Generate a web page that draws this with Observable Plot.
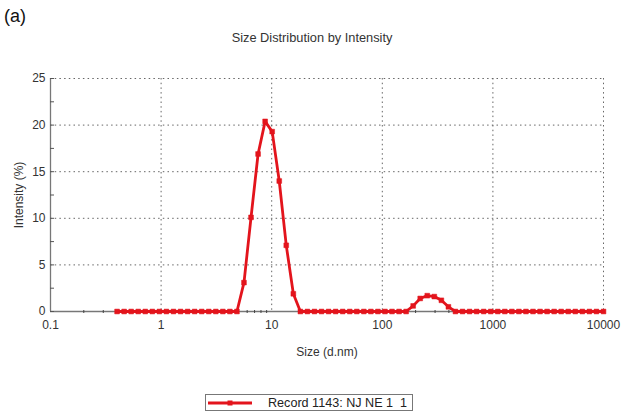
<!DOCTYPE html>
<html>
<head>
<meta charset="utf-8">
<script src="https://cdn.jsdelivr.net/npm/d3@7"></script>
<script src="https://cdn.jsdelivr.net/npm/@observablehq/plot@0.6"></script>
<style>
  body { margin: 0; background: #fff; }
  #wrap { position: relative; width: 622px; height: 414px; font-family: "Liberation Sans", Arial, sans-serif; color: #333; }
  #wrap svg.plot { position: absolute; left: 0; top: 0; }
  #tag { position: absolute; left: 4px; top: 6px; font-size: 18px; color: #111; }
  #title { position: absolute; left: 0; width: 624px; top: 30px; text-align: center; font-size: 12.8px; color: #333; }
  #legend { position: absolute; left: 205px; top: 394px; width: 206px; height: 15px; border: 1px solid #777; background: #fff;
            display: flex; align-items: center; font-size: 12.6px; color: #222; overflow: hidden; }
  #legend svg { margin-left: 1px; margin-right: 15px; }
</style>
</head>
<body>
<div id="wrap">
  <div id="tag">(a)</div>
  <div id="title">Size Distribution by Intensity</div>
  <div id="legend"></div>
</div>
<script>
// Size bins (d.nm), logarithmically spaced from 0.4 to 10000
const sizes = [
  0.4, 0.4632, 0.5365, 0.6213, 0.7195, 0.8332, 0.9649, 1.117, 1.294, 1.499,
  1.736, 2.01, 2.328, 2.696, 3.122, 3.615, 4.187, 4.849, 5.615, 6.503,
  7.531, 8.721, 10.1, 11.7, 13.54, 15.69, 18.17, 21.04, 24.36, 28.21,
  32.67, 37.84, 43.82, 50.75, 58.77, 68.06, 78.82, 91.28, 105.7, 122.4,
  141.8, 164.2, 190.1, 220.2, 255.0, 295.3, 342.0, 396.1, 458.7, 531.2,
  615.1, 712.4, 825.0, 955.4, 1106, 1281, 1484, 1718, 1990, 2305,
  2669, 3091, 3580, 4145, 4801, 5560, 6439, 7456, 8635, 10000
];

// Intensity (%) per bin
const intensity = [
  0, 0, 0, 0, 0, 0, 0, 0, 0, 0,
  0, 0, 0, 0, 0, 0, 0, 0, 3.1, 10.1,
  16.9, 20.4, 19.3, 14.0, 7.1, 1.9, 0, 0, 0, 0,
  0, 0, 0, 0, 0, 0, 0, 0, 0, 0,
  0, 0, 0.6, 1.4, 1.7, 1.6, 1.2, 0.5, 0, 0,
  0, 0, 0, 0, 0, 0, 0, 0, 0, 0,
  0, 0, 0, 0, 0, 0, 0, 0, 0, 0
];

const seriesName = "Record 1143: NJ NE 1  1";
const xMajor = [0.1, 1, 10, 100, 1000, 10000];
const xMinor = [0.2, 0.3, 0.4, 0.5, 0.6, 0.7, 0.8, 0.9,
  2, 3, 4, 5, 6, 7, 8, 9, 20, 30, 40, 50, 60, 70, 80, 90,
  200, 300, 400, 500, 600, 700, 800, 900, 2000, 3000, 4000, 5000, 6000, 7000, 8000, 9000];
const yMajor = [0, 5, 10, 15, 20, 25];
const yMinor = [2.5, 7.5, 12.5, 17.5, 22.5];

const records = sizes.map((s, i) => ({size: s, value: intensity[i]}));

const W = 622, H = 414;
const mTop = 78, mBottom = 103, mLeft = 50, mRight = 19;
const innerW = W - mLeft - mRight, innerH = H - mTop - mBottom;

const red = "#e3141c";
const gridStyle = {stroke: "#666", strokeOpacity: 1, strokeDasharray: "1.5,3.2", strokeWidth: 1};

const chart = Plot.plot({
  width: W,
  height: H,
  marginTop: mTop,
  marginBottom: mBottom,
  marginLeft: mLeft,
  marginRight: mRight,
  style: {fontFamily: "'Liberation Sans', Arial, sans-serif", fontSize: "11px", color: "#333", background: "transparent"},
  x: {type: "log", domain: [0.1, 10000]},
  y: {domain: [0, 25]},
  marks: [
    Plot.gridX(xMajor.slice(1), gridStyle),
    Plot.gridY(yMajor.slice(1), gridStyle),
    Plot.ruleY([0], {stroke: "#777", strokeWidth: 1.3}),
    Plot.ruleX([0.1], {stroke: "#777", strokeWidth: 1.3}),
    // inward minor/major ticks on the value axis
    Plot.tickY(yMajor.concat(yMinor), {stroke: "#555", insetRight: innerW - 4}),
    // small ticks on the size axis
    Plot.tickX(xMinor, {stroke: "#444", insetTop: innerH - 3, dy: 2}),
    Plot.axisX(xMajor, {
      tickSize: 0, tickPadding: 9, tickFormat: d => String(d), fontSize: 12,
      label: "Size (d.nm)", labelAnchor: "center", labelArrow: "none", labelOffset: 44
    }),
    Plot.axisY(yMajor, {
      tickSize: 0, tickPadding: 5, fontSize: 12,
      label: "Intensity (%)", labelAnchor: "center", labelArrow: "none", labelOffset: 36
    }),
    Plot.line(records, {x: "size", y: "value", stroke: red, strokeWidth: 2.8}),
    Plot.dot(records, {x: "size", y: "value", symbol: "square", r: 2.7, fill: red, stroke: red, strokeWidth: 0.5})
  ]
});
chart.classList.add("plot");
document.getElementById("wrap").prepend(chart);

// Legend: line sample with square marker, then the series name
const lg = document.getElementById("legend");
const sw = d3.create("svg").attr("width", 46).attr("height", 10);
sw.append("line").attr("x1", 1).attr("x2", 45).attr("y1", 5).attr("y2", 5)
  .attr("stroke", red).attr("stroke-width", 3);
sw.append("rect").attr("x", 20.5).attr("y", 2.5).attr("width", 5).attr("height", 5).attr("fill", red);
lg.append(sw.node());
const lt = document.createElement("span");
lt.textContent = seriesName;
lt.style.whiteSpace = "pre";
lg.append(lt);
</script>
</body>
</html>
